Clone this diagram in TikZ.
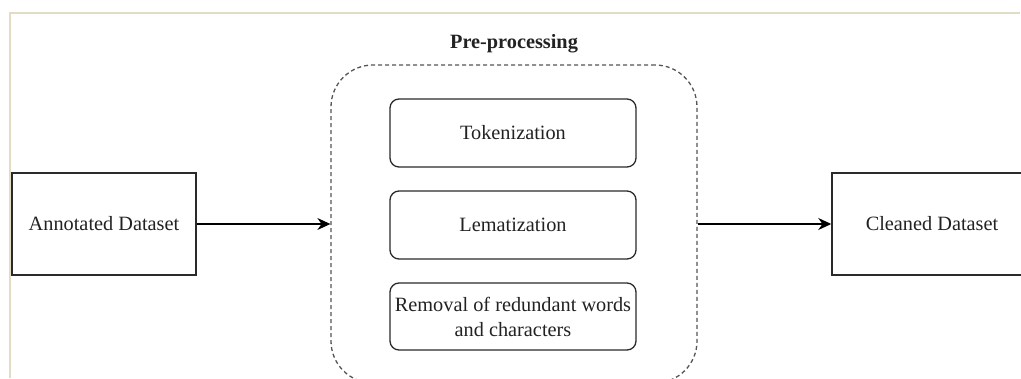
\documentclass[tikz,border=0pt]{standalone}
\usepackage{fontspec}
\setmainfont{Liberation Serif}
\usetikzlibrary{arrows.meta}
\definecolor{framebeige}{HTML}{E2DCC6}
\definecolor{boxline}{HTML}{2A2A2A}
\definecolor{dashline}{HTML}{555555}
\definecolor{txt}{HTML}{222222}
\tikzset{
  plainbox/.style={draw=boxline, line width=1.5pt, rectangle, align=center, text=txt,
    font=\fontsize{20.3}{25}\selectfont, inner sep=0pt},
  stepbox/.style={plainbox, rounded corners=9pt, minimum width=246pt, line width=1.3pt},
  groupbox/.style={draw=dashline, dash pattern=on 4pt off 3pt, line width=1.3pt,
    rounded corners=42pt, minimum width=366pt, minimum height=318pt, inner sep=0pt},
  arr/.style={draw=black, line width=1.2pt, -{Stealth[length=13pt,width=12pt]}},
}
\begin{document}
\begin{tikzpicture}[x=1pt,y=-1pt]
\useasboundingbox (0,0) rectangle (1021,378);
\clip (0,0) rectangle (1021,378);
\fill[white] (0,0) rectangle (1021,378);
% frame
\draw[framebeige, line width=2pt] (10,378) -- (10,13) -- (1020,13);
% nodes
\node[plainbox, minimum width=184pt, minimum height=102pt] (ann) at (104,224) {Annotated Dataset};
\node[plainbox, minimum width=200pt, minimum height=102pt] (clean) at (932,224) {Cleaned Dataset};
\node[groupbox] (pre) at (514,224) {};
\node[font=\fontsize{20.3}{25}\selectfont\bfseries, text=txt] (title) at (514,44) {Pre-processing};
\node[stepbox, minimum height=68pt] (tok) at (513,133) {Tokenization};
\node[stepbox, minimum height=68pt] (lem) at (513,225) {Lematization};
\node[stepbox, minimum height=67pt] (rem) at (513,316.5) {Removal of redundant words\\and characters};
% connectors
\draw[arr] (ann.east) -- (ann.east -| pre.west);
\draw[arr] (pre.east |- clean.west) -- (clean.west);
\end{tikzpicture}
\end{document}
